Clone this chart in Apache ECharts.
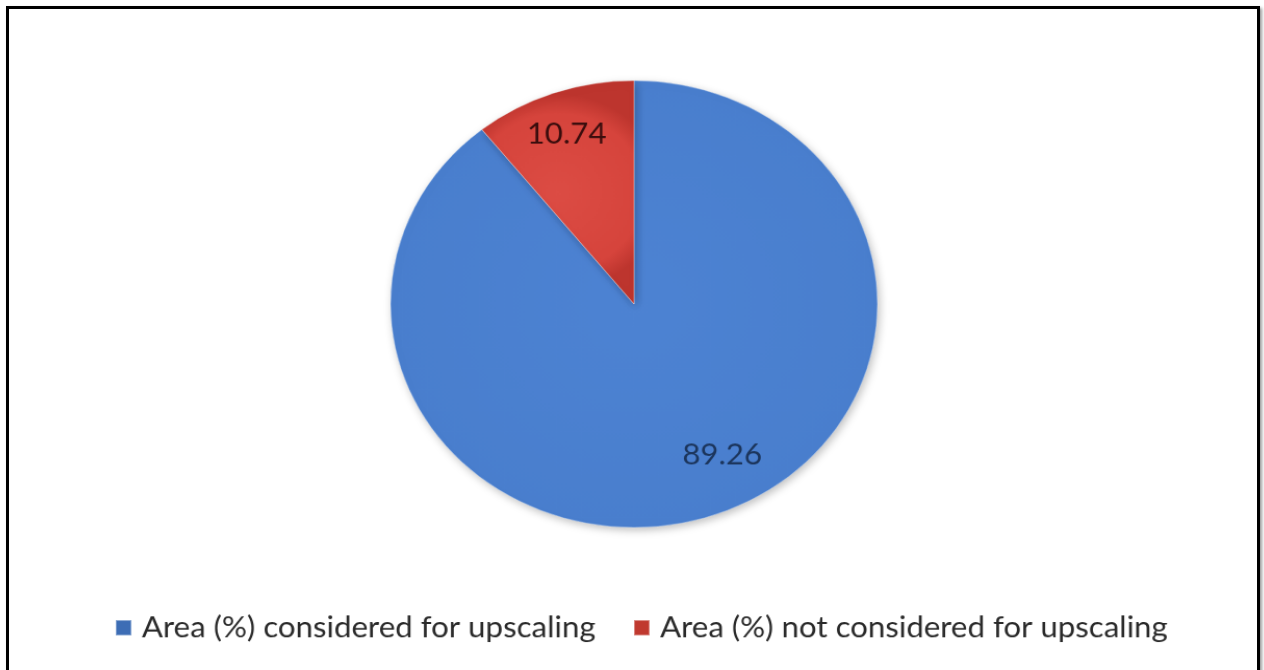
<!DOCTYPE html>
<html>
<head>
<meta charset="utf-8">
<script src="https://cdn.jsdelivr.net/npm/echarts@6/dist/echarts.min.js"></script>
<style>
html,body{margin:0;padding:0;background:#fff;overflow:hidden;}
#frame{position:absolute;left:6px;top:6px;width:1248px;height:700px;border:3px solid #000;box-shadow:2px 2px 3px rgba(0,0,0,0.4);}
#chart{position:absolute;left:0;top:0;width:1264px;height:700px;transform:scale(1.0406,0.955);transform-origin:634px 304px;}
</style>
</head>
<body>
<div id="frame"></div>
<div id="chart"></div>
<script>
var categories = ['Area (%) considered for upscaling', 'Area (%) not considered for upscaling'];
var values = [89.26, 10.74];
var valueLabels = ['89.26', '10.74'];

var colors = [
  new echarts.graphic.RadialGradient(0.5, 0.5, 0.7, [
    {offset: 0, color: '#4d83d3'},
    {offset: 0.8, color: '#497ecd'},
    {offset: 1, color: '#3a68b2'}
  ]),
  new echarts.graphic.RadialGradient(0.5, 0.5, 0.7, [
    {offset: 0, color: '#dc4c44'},
    {offset: 0.8, color: '#d6443c'},
    {offset: 1, color: '#bd352e'}
  ])
];
var legendColors = ['#3d6db5', '#c0392f'];
var labelColors = ['#1c355c', '#3a0d0d'];
var labelOffsets = [[45, 45], [-25, -64]];

var chart = echarts.init(document.getElementById('chart'));
chart.setOption({
  animation: false,
  legend: {
    top: 623,
    left: 130,
    itemWidth: 15,
    itemHeight: 16,
    itemGap: 36,
    icon: 'rect',
    textStyle: {fontFamily: 'Lato', fontSize: 30, lineHeight: 30, color: '#2a2a2a', padding: [0, 0, 0, 5]},
    data: categories.map(function (c, i) { return {name: c, itemStyle: {color: legendColors[i]}}; })
  },
  series: [{
    type: 'pie',
    center: [634, 304],
    radius: 234,
    startAngle: 90,
    clockwise: true,
    avoidLabelOverlap: false,
    labelLine: {show: false},
    itemStyle: {
      borderColor: 'rgba(255,255,255,0.35)',
      borderWidth: 1,
      shadowBlur: 8,
      shadowColor: 'rgba(0,0,0,0.25)',
      shadowOffsetX: 2,
      shadowOffsetY: 3
    },
    data: categories.map(function (c, i) {
      return {
        name: c,
        value: values[i],
        itemStyle: {color: colors[i]},
        label: {
          show: true,
          position: 'inside',
          formatter: valueLabels[i],
          offset: labelOffsets[i],
          fontFamily: 'Lato',
          fontSize: 30,
          color: labelColors[i]
        }
      };
    })
  }]
});
</script>
</body>
</html>
